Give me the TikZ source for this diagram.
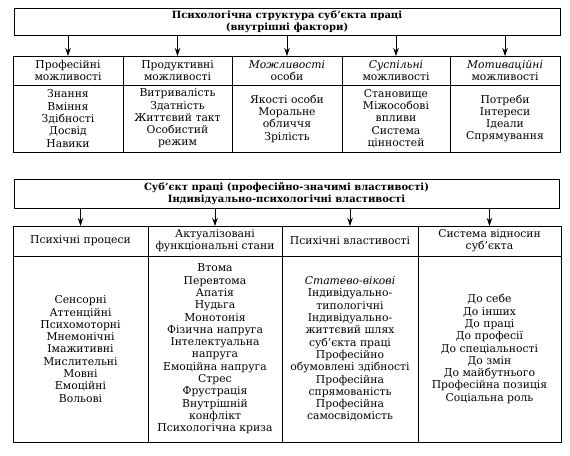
\documentclass[tikz,border=0pt]{standalone}
\usepackage{fontspec}
\setmainfont{DejaVu Serif}
\usetikzlibrary{arrows.meta}
\begin{document}
\begin{tikzpicture}[x=1pt,y=-1pt,
  cell/.style={draw, line width=0.9pt, inner sep=0pt, outer sep=0pt, align=center,
    font=\fontsize{10.8}{12.3}\selectfont},
  headbox/.style={cell, font=\bfseries\fontsize{10}{12}\selectfont},
  arr/.style={-{Stealth[length=8pt,width=5.5pt]}, line width=0.8pt}]
\useasboundingbox (0,0) rectangle (570,455);
% ---------- upper block ----------
\node[headbox, minimum width=546pt, minimum height=27pt] (top) at (287,21.5)
  {Психологічна структура суб'єкта праці\\(внутрішні фактори)};
\node[cell, minimum width=110pt, minimum height=29pt] (h1) at (68,70.5) {Професійні\\можливості};
\node[cell, minimum width=109pt, minimum height=29pt] (h2) at (177.5,70.5) {Продуктивні\\можливості};
\node[cell, minimum width=110pt, minimum height=29pt] (h3) at (287,70.5) {\textit{Можливості}\\особи};
\node[cell, minimum width=108pt, minimum height=29pt] (h4) at (396,70.5) {\textit{Суспільні}\\можливості};
\node[cell, minimum width=110pt, minimum height=29pt] (h5) at (505,70.5) {\textit{Мотиваційні}\\можливості};
\node[cell, minimum width=110pt, minimum height=67pt] (b1) at (68,118.5) {Знання\\Вміння\\Здібності\\Досвід\\Навики};
\node[cell, minimum width=109pt, minimum height=67pt] (b2) at (177.5,118.5) {Витривалість\\Здатність\\Життєвий такт\\Особистий\\режим};
\node[cell, minimum width=110pt, minimum height=67pt] (b3) at (287,118.5) {Якості особи\\Моральне\\обличчя\\Зрілість};
\node[cell, minimum width=108pt, minimum height=67pt] (b4) at (396,118.5) {Становище\\Міжособові\\впливи\\Система\\цінностей};
\node[cell, minimum width=110pt, minimum height=67pt] (b5) at (505,118.5) {Потреби\\Інтереси\\Ідеали\\Спрямування};
\foreach \n in {h1,h2,h3,h4,h5} \draw[arr] (top.south -| \n.north) -- (\n.north);
% ---------- lower block ----------
\node[headbox, minimum width=545pt, minimum height=29pt] (sub) at (286.5,193.5)
  {Суб'єкт праці (професійно-значимі властивості)\\Індивідуально-психологічні властивості};
\node[cell, minimum width=135pt, minimum height=30pt] (H1) at (80.5,241) {Психічні процеси};
\node[cell, minimum width=134pt, minimum height=30pt] (H2) at (215,241) {Актуалізовані\\функціональні стани};
\node[cell, minimum width=136pt, minimum height=30pt] (H3) at (350,241) {Психічні властивості};
\node[cell, minimum width=143pt, minimum height=30pt] (H4) at (489.5,241) {Система відносин\\суб'єкта};
\node[cell, minimum width=135pt, minimum height=186pt] (B1) at (80.5,349)
  {Сенсорні\\Аттенційні\\Психомоторні\\Мнемонічні\\Імажитивні\\Мислительні\\Мовні\\Емоційні\\Вольові};
\node[cell, minimum width=134pt, minimum height=186pt] (B2) at (215,349)
  {Втома\\Перевтома\\Апатія\\Нудьга\\Монотонія\\Фізична напруга\\Інтелектуальна\\напруга\\Емоційна напруга\\Стрес\\Фрустрація\\Внутрішній\\конфлікт\\Психологічна криза};
\node[cell, minimum width=136pt, minimum height=186pt] (B3) at (350,349)
  {\textit{Статево-вікові}\\Індивідуально-\\типологічні\\Індивідуально-\\життєвий шлях\\суб'єкта праці\\Професійно\\обумовлені здібності\\Професійна\\спрямованість\\Професійна\\самосвідомість};
\node[cell, minimum width=143pt, minimum height=186pt] (B4) at (489.5,349)
  {До себе\\До інших\\До праці\\До професії\\До спеціальності\\До змін\\До майбутнього\\Професійна позиція\\Соціальна роль};
\foreach \n in {H1,H2,H3,H4} \draw[arr] (sub.south -| \n.north) -- (\n.north);
\end{tikzpicture}
\end{document}
